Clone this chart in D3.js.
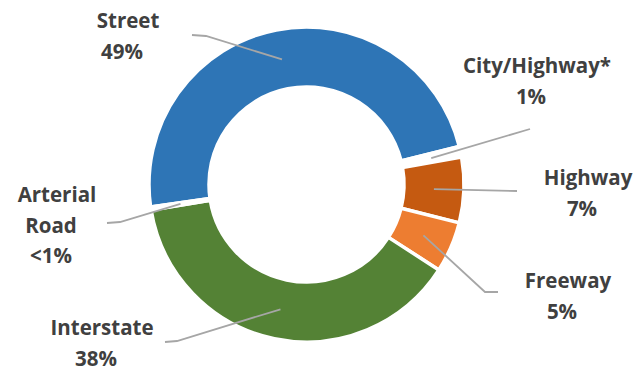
<!DOCTYPE html>
<html>
<head>
<meta charset="utf-8">
<script src="https://cdn.jsdelivr.net/npm/d3@7"></script>
<style>
  html, body { margin: 0; padding: 0; background: #fff; }
  svg { display: block; }
  .lbl { font-family: "Open Sans", Lato, sans-serif; font-weight: 700; font-size: 20.5px; fill: #404040; }
</style>
</head>
<body>
<svg width="641" height="377"></svg>
<script>
// road types, clockwise from the Street slice
const categories = ['Street', 'City/Highway*', 'Highway', 'Freeway', 'Interstate', 'Arterial Road'];
const shares = [48.4, 1.1, 6.7, 5.2, 38.3, 0.3];
const shareLabels = ['49%', '1%', '7%', '5%', '38%', '<1%'];
const colors = ['#2e75b6', '#ffffff', '#c55a11', '#ed7d31', '#548235', '#ffffff'];

// label layout: first-row centre x, first baseline y, leader elbow and end
const labelLayout = [
    { x: 128, y: 28, lines: ['Street'], elbow: [206, 36], end: [192, 35] },
    { x: 537, y: 73, lines: ['City/Highway*'], elbow: null, end: [530, 129] },
    { x: 588, y: 185, lines: ['Highway'], elbow: null, end: [517, 191] },
    { x: 568, y: 288, lines: ['Freeway'], elbow: [485, 292], end: [498, 292] },
    { x: 102, y: 335, lines: ['Interstate'], elbow: [177, 341], end: [165, 342] },
    { x: 57, y: 202, lines: ['Arterial', 'Road'], elbow: [120, 222], end: [107, 223] },
];

const cx = 306.5, cy = 184.5;
const outerR = 157.5, innerR = 97.5;
const lineGap = 30.5;
const rowShift = -6;

const svg = d3.select('svg');
const g = svg.append('g').attr('transform', `translate(${cx},${cy})`);

const rad = (deg) => deg * Math.PI / 180;
const pie = d3.pie()
    .sort(null)
    .value((d) => d)
    .startAngle(rad(-98.2))
    .endAngle(rad(-98.2 + 360));

const arc = d3.arc().innerRadius(innerR).outerRadius(outerR);
const arcs = pie(shares);

g.selectAll('path.slice')
    .data(arcs)
    .enter()
    .append('path')
    .attr('class', 'slice')
    .attr('d', arc)
    .style('fill', (d, i) => colors[i])
    .style('stroke', '#fff')
    .style('stroke-width', 3.5)
    .style('stroke-linejoin', 'round');

// leader lines from the slice centroid out to the label
const leader = d3.line();
svg.selectAll('path.leader')
    .data(arcs)
    .enter()
    .append('path')
    .attr('class', 'leader')
    .attr('d', (d, i) => {
        const c = arc.centroid(d);
        const pts = [[c[0] + cx, c[1] + cy]];
        const lay = labelLayout[i];
        if (lay.elbow) pts.push(lay.elbow);
        pts.push(lay.end);
        return leader(pts);
    })
    .style('fill', 'none')
    .style('stroke', '#a6a6a6')
    .style('stroke-width', 1.8);

const labels = svg.selectAll('text.lbl')
    .data(categories)
    .enter()
    .append('text')
    .attr('class', 'lbl')
    .attr('text-anchor', 'middle');

labels.each(function(d, i) {
    const lay = labelLayout[i];
    const rows = lay.lines.concat([shareLabels[i]]);
    d3.select(this).selectAll('tspan')
        .data(rows)
        .enter()
        .append('tspan')
        .attr('x', (r, k) => lay.x + (k > 0 ? rowShift : 0))
        .attr('y', (r, k) => lay.y + k * lineGap)
        .text((r) => r);
});
</script>
</body>
</html>
